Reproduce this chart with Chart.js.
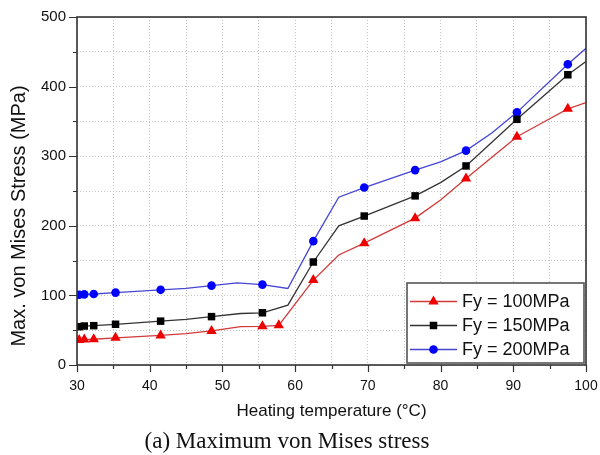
<!DOCTYPE html>
<html>
<head>
<meta charset="utf-8">
<script src="https://cdn.jsdelivr.net/npm/chart.js@4"></script>
<style>
  body { margin: 0; background: #fff; }
  canvas { display: block; }
</style>
</head>
<body>
<canvas id="chart" width="600" height="455"></canvas>
<script>
// Fy = 100MPa
const redX = [30, 30.3, 31, 32.3, 35.3, 41.5, 45, 48.5, 52.5, 55.5, 57.75, 62.5, 66, 69.5, 76.5, 80, 83.5, 90.5, 94.5, 97.5, 100];
const redY = [35.5, 36, 36.5, 37, 39, 42.5, 45, 49, 55, 55.5, 57, 122, 158, 175, 211, 237, 268, 328, 351, 368, 377];
const redMarkX = [30.3, 31, 32.3, 35.3, 41.5, 48.5, 55.5, 57.75, 62.5, 69.5, 76.5, 83.5, 90.5, 97.5];

// Fy = 150MPa
const blackX = [30, 30.3, 31, 32.3, 35.3, 41.5, 45, 48.5, 52.5, 55.5, 59, 62.5, 66, 69.5, 76.5, 80, 83.5, 90.5, 97.5, 100];
const blackY = [54, 55, 56, 56.5, 58.5, 63, 65.5, 69.5, 74, 75, 86, 148, 200, 214, 243, 262, 286, 353, 417, 436];
const blackMarkX = [30.3, 31, 32.3, 35.3, 41.5, 48.5, 55.5, 62.5, 69.5, 76.5, 83.5, 90.5, 97.5];

// Fy = 200MPa
const blueX = [30, 30.3, 31, 32.3, 35.3, 41.5, 45, 48.5, 52, 55.5, 59, 62.5, 66, 69.5, 76.5, 80, 83.5, 87, 90.5, 97.5, 100];
const blueY = [100, 101, 101.5, 102, 104, 108, 110, 114, 118, 115.5, 110, 178, 241, 255, 280, 292, 308, 333, 363, 432, 455];
const blueMarkX = [30.3, 31, 32.3, 35.3, 41.5, 48.5, 55.5, 62.5, 69.5, 76.5, 83.5, 90.5, 97.5];

const seriesNames = ["Fy = 100MPa", "Fy = 150MPa", "Fy = 200MPa"];
const xTicks = [30, 40, 50, 60, 70, 80, 90, 100];
const yTicks = [0, 100, 200, 300, 400, 500];
const xTitle = "Heating temperature (\u00B0C)";
const yTitle = "Max. von Mises Stress (MPa)";
const caption = "(a) Maximum von Mises stress";

const styles = [
    { line: "#d23a3a", mark: "#ee0000", shape: "triangle", r: 6 },
    { line: "#333333", mark: "#000000", shape: "rect", r: 5.3 },
    { line: "#4646d2", mark: "#0000ff", shape: "circle", r: 4.3 },
];

function points(xs, ys) {
    return xs.map((x, i) => ({ x, y: ys[i] }));
}

function makeSet(i, xs, ys, marks) {
    const s = styles[i];
    return {
        label: seriesNames[i],
        data: points(xs, ys),
        showLine: true,
        borderColor: s.line,
        borderWidth: 1.3,
        tension: 0,
        pointStyle: s.shape,
        pointRadius: (ctx) => (ctx.raw && marks.includes(ctx.raw.x) ? s.r : 0),
        pointHoverRadius: 0,
        pointBackgroundColor: s.mark,
        pointBorderColor: s.mark,
        pointBorderWidth: 0,
    };
}

function drawMarker(ctx, shape, x, y, r) {
    ctx.beginPath();
    if (shape === "circle") {
        ctx.arc(x, y, r, 0, Math.PI * 2);
    } else if (shape === "rect") {
        const h = r * Math.SQRT1_2;
        ctx.rect(x - h, y - h, 2 * h, 2 * h);
    } else {
        ctx.moveTo(x, y - r);
        ctx.lineTo(x + r * Math.sin(2 * Math.PI / 3), y + r / 2);
        ctx.lineTo(x - r * Math.sin(2 * Math.PI / 3), y + r / 2);
        ctx.closePath();
    }
    ctx.fill();
}

const decorations = {
    id: "decorations",
    afterDraw(chart) {
        const { ctx, chartArea: a, scales } = chart;
        const xs = scales.x, ys = scales.y;
        ctx.save();

        // frame
        ctx.strokeStyle = "#333";
        ctx.lineWidth = 1.6;
        ctx.strokeRect(a.left, a.top, a.right - a.left, a.bottom - a.top);

        // outward tick marks, long on labelled values
        ctx.lineWidth = 1.2;
        ctx.beginPath();
        for (let v = 30; v <= 100; v += 5) {
            const px = Math.round(xs.getPixelForValue(v)) + 0.5;
            ctx.moveTo(px, a.bottom);
            ctx.lineTo(px, a.bottom + (v % 10 === 0 ? 7 : 4));
        }
        for (let v = 0; v <= 500; v += 50) {
            const py = Math.round(ys.getPixelForValue(v)) + 0.5;
            ctx.moveTo(a.left, py);
            ctx.lineTo(a.left - (v % 100 === 0 ? 8 : 4), py);
        }
        ctx.stroke();

        // axis titles and caption
        ctx.fillStyle = "#111";
        ctx.textAlign = "center";
        ctx.textBaseline = "alphabetic";
        ctx.font = "17px 'Liberation Sans', Arial, sans-serif";
        ctx.fillText(xTitle, (a.left + a.right) / 2, 416);

        ctx.save();
        ctx.translate(25, 216);
        ctx.rotate(-Math.PI / 2);
        ctx.font = "20px 'Liberation Sans', Arial, sans-serif";
        ctx.fillText(yTitle, 0, 0);
        ctx.restore();

        ctx.font = "23px 'Liberation Serif', 'Times New Roman', serif";
        ctx.fillText(caption, 287, 448);

        // legend box
        const lx = 407, ly = 283, lw = 177, lh = 80;
        ctx.fillStyle = "#fff";
        ctx.fillRect(lx, ly, lw, lh);
        ctx.strokeStyle = "#555";
        ctx.lineWidth = 1.6;
        ctx.strokeRect(lx, ly, lw, lh);
        const rows = [301.5, 325.5, 349.5];
        ctx.textAlign = "left";
        ctx.textBaseline = "middle";
        ctx.font = "18px 'Liberation Sans', Arial, sans-serif";
        rows.forEach((ry, i) => {
            const s = styles[i];
            ctx.strokeStyle = s.line;
            ctx.lineWidth = 1.3;
            ctx.beginPath();
            ctx.moveTo(410, ry);
            ctx.lineTo(457, ry);
            ctx.stroke();
            ctx.fillStyle = s.mark;
            drawMarker(ctx, s.shape, 433.5, ry, s.r);
            ctx.fillStyle = "#111";
            ctx.fillText(seriesNames[i], 462, ry + 1);
        });
        ctx.restore();
    },
};

new Chart(document.getElementById("chart"), {
    type: "scatter",
    data: {
        datasets: [
            makeSet(0, redX, redY, redMarkX),
            makeSet(1, blackX, blackY, blackMarkX),
            makeSet(2, blueX, blueY, blueMarkX),
        ],
    },
    options: {
        responsive: false,
        animation: false,
        events: [],
        layout: { padding: { left: 0, right: 14, top: 17, bottom: 0 } },
        plugins: {
            legend: { display: false },
            tooltip: { enabled: false },
        },
        scales: {
            x: {
                type: "linear",
                min: 30,
                max: 100,
                afterFit: (s) => {
                    s.height = 90;
                    s.paddingLeft = 0;
                    s.paddingRight = 0;
                },
                afterBuildTicks: (s) => {
                    s.ticks = [];
                    for (let v = 30; v <= 100; v += 5) s.ticks.push({ value: v });
                },
                ticks: {
                    padding: 13,
                    color: "#111",
                    font: { family: "'Liberation Sans', Arial, sans-serif", size: 14 },
                    callback: (v) => (xTicks.includes(v) ? String(v) : ""),
                    maxRotation: 0,
                    autoSkip: false,
                },
                grid: { color: "#c4c4c4", lineWidth: 1, drawTicks: false },
                border: { display: false, dash: [1, 2] },
            },
            y: {
                type: "linear",
                min: 0,
                max: 500,
                afterFit: (s) => {
                    s.width = 77;
                    s.paddingTop = 0;
                    s.paddingBottom = 0;
                },
                afterBuildTicks: (s) => {
                    s.ticks = [];
                    for (let v = 0; v <= 500; v += 50) s.ticks.push({ value: v });
                },
                ticks: {
                    padding: 11,
                    color: "#111",
                    font: { family: "'Liberation Sans', Arial, sans-serif", size: 15 },
                    callback: (v) => (yTicks.includes(v) ? String(v) : ""),
                    autoSkip: false,
                },
                grid: { color: "#c4c4c4", lineWidth: 1, drawTicks: false },
                border: { display: false, dash: [1, 2] },
            },
        },
    },
    plugins: [decorations],
});
</script>
</body>
</html>
